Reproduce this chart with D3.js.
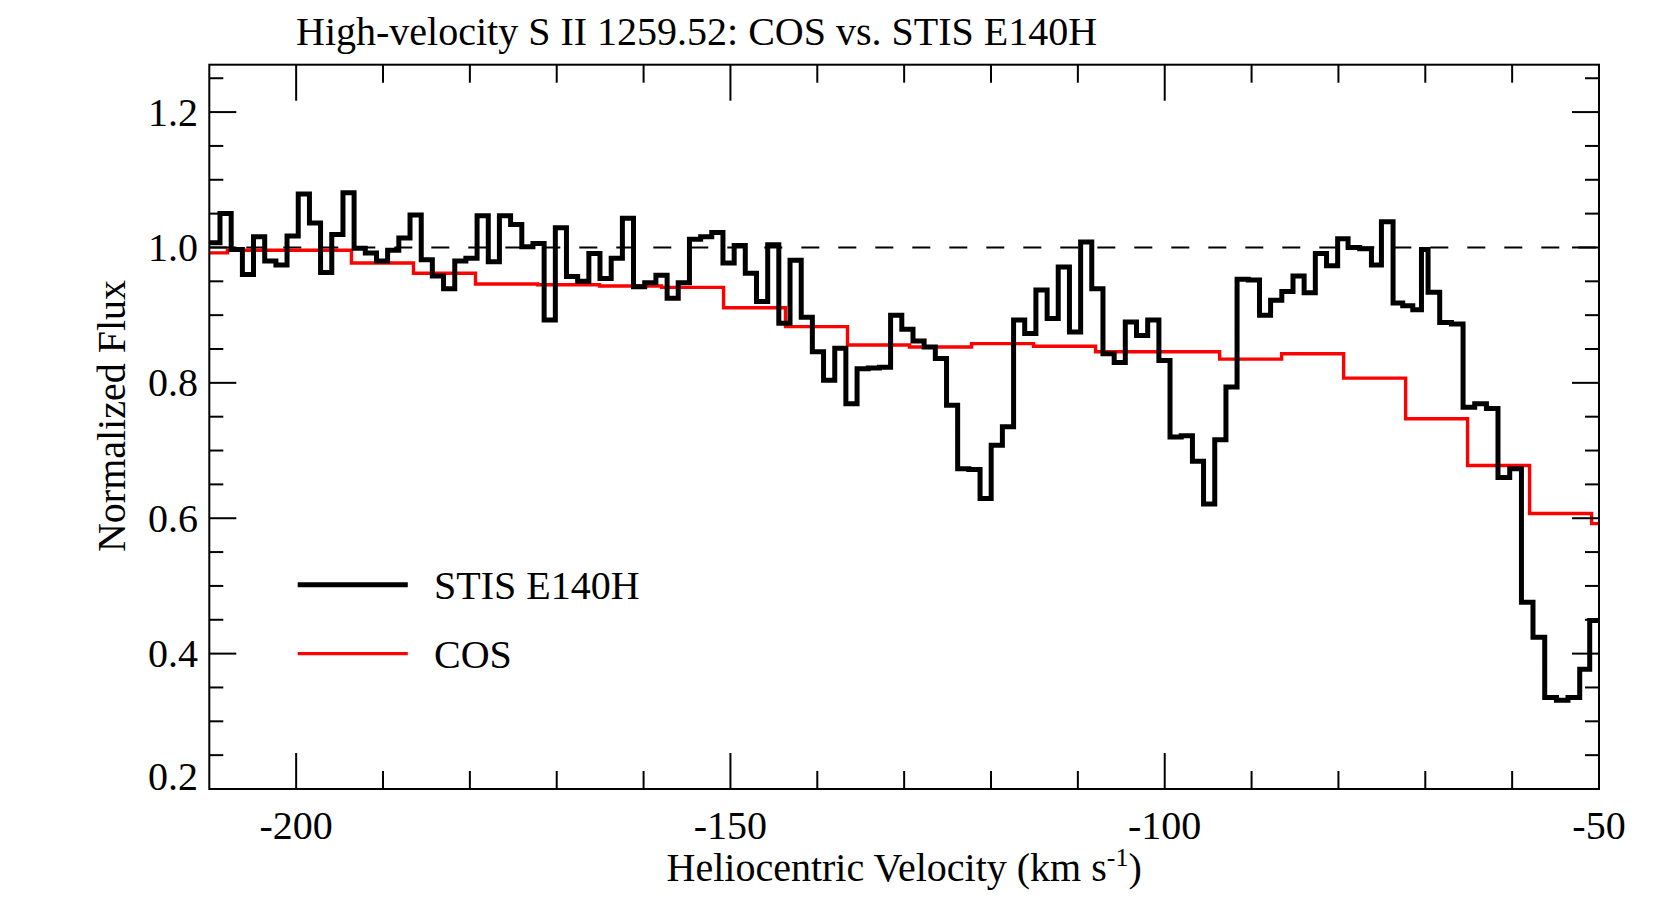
<!DOCTYPE html>
<html><head><meta charset="utf-8">
<script src="https://cdn.jsdelivr.net/npm/d3@7"></script>
<style>
body{margin:0;background:#fff}
svg{display:block}
text{font-family:"Liberation Serif","Times New Roman",serif;fill:#000}
</style>
</head><body>
<svg id="chart" width="1661" height="922"></svg>
<script>
// ---------------- data ----------------
const titleText = "High-velocity S II 1259.52: COS vs. STIS E140H";
const xDomain = [-210, -50];
const yDomain = [0.2, 1.27];
const xMajorTicks = [-200, -150, -100, -50];
const xTickLabels = ["-200", "-150", "-100", "-50"];
const xMinorTicks = [-190, -180, -170, -160, -140, -130, -120, -110, -90, -80, -70, -60];
const yMajorTicks = [0.2, 0.4, 0.6, 0.8, 1.0, 1.2];
const yTickLabels = ["0.2", "0.4", "0.6", "0.8", "1.0", "1.2"];
const yMinorTicks = [0.25, 0.3, 0.35, 0.45, 0.5, 0.55, 0.65, 0.7, 0.75, 0.85, 0.9, 0.95, 1.05, 1.1, 1.15, 1.25];
const continuumLevel = 1.0;

// STIS E140H: left bin edges (km/s) and normalized flux
const stisVelocity = [
 -210.05, -208.77, -207.48, -206.19, -204.91, -203.62, -202.33, -201.05, -199.76, -198.47,
 -197.19, -195.90, -194.61, -193.33, -192.04, -190.75, -189.47, -188.18, -186.89, -185.60,
 -184.32, -183.03, -181.74, -180.46, -179.17, -177.88, -176.60, -175.31, -174.02, -172.74,
 -171.45, -170.16, -168.88, -167.59, -166.30, -165.02, -163.73, -162.44, -161.16, -159.87,
 -158.58, -157.29, -156.01, -154.72, -153.43, -152.15, -150.86, -149.57, -148.29, -147.00,
 -145.71, -144.43, -143.14, -141.85, -140.57, -139.28, -137.99, -136.71, -135.42, -134.13,
 -132.85, -131.56, -130.27, -128.98, -127.70, -126.41, -125.12, -123.84, -122.55, -121.26,
 -119.98, -118.69, -117.40, -116.12, -114.83, -113.54, -112.26, -110.97, -109.68, -108.40,
 -107.11, -105.82, -104.54, -103.25, -101.96, -100.67, -99.39, -98.10, -96.81, -95.53,
 -94.24, -92.95, -91.67, -90.38, -89.09, -87.81, -86.52, -85.23, -83.95, -82.66,
 -81.37, -80.09, -78.89, -77.55, -76.20, -75.05, -73.71, -72.60, -71.44, -70.44,
 -69.68, -68.34, -66.99, -65.65, -64.31, -62.96, -61.63, -60.28, -58.93, -57.60,
 -56.25, -54.90, -53.57, -52.22, -51.07];
const stisVelocityEnd = -49.78;
const stisFlux = [
 1.007, 1.050, 0.997, 0.960, 1.016, 0.980, 0.974, 1.017, 1.079, 1.036,
 0.963, 1.019, 1.081, 0.999, 0.992, 0.980, 0.996, 1.014, 1.048, 0.982,
 0.958, 0.939, 0.980, 0.984, 1.047, 0.979, 1.047, 1.034, 1.001, 1.006,
 0.893, 1.029, 0.957, 0.950, 0.991, 0.954, 0.984, 1.043, 0.942, 0.948,
 0.959, 0.925, 0.948, 1.012, 1.016, 1.022, 0.977, 1.003, 0.962, 0.920,
 1.004, 0.888, 0.981, 0.897, 0.846, 0.804, 0.851, 0.769, 0.821, 0.822,
 0.823, 0.900, 0.879, 0.862, 0.853, 0.836, 0.767, 0.673, 0.672, 0.629,
 0.708, 0.735, 0.893, 0.873, 0.937, 0.895, 0.971, 0.875, 1.008, 0.939,
 0.843, 0.830, 0.890, 0.870, 0.893, 0.833, 0.720, 0.722, 0.684, 0.621,
 0.716, 0.794, 0.953, 0.952, 0.900, 0.922, 0.935, 0.958, 0.933, 0.991,
 0.973, 1.013, 1.000, 0.998, 0.974, 1.038, 0.918, 0.914, 0.908, 0.997,
 0.934, 0.889, 0.887, 0.764, 0.769, 0.762, 0.660, 0.673, 0.476, 0.424,
 0.335, 0.331, 0.335, 0.377, 0.449];

// COS: left bin edges (km/s) and normalized flux
const cosVelocity = [
 -215.04, -207.91, -200.77, -193.63, -186.49, -179.35, -172.21, -165.07, -157.93, -150.79,
 -143.66, -136.52, -129.38, -122.24, -115.10, -107.96, -100.82, -93.68, -86.54, -79.40,
 -72.26, -65.13, -57.99, -50.85];
const cosVelocityEnd = -43.71;
const cosFlux = [
 0.992, 0.996, 0.996, 0.977, 0.962, 0.946, 0.945, 0.943, 0.941, 0.911,
 0.883, 0.856, 0.853, 0.858, 0.854, 0.846, 0.846, 0.835, 0.843, 0.807,
 0.747, 0.678, 0.607, 0.592];

const legendLabels = ["STIS E140H", "COS"];
const seriesColors = ["#000000", "#ff0000"];

// ---------------- drawing ----------------
const svg = d3.select("#chart");
const L = 209.3, R = 1599, T = 64.7, B = 789;
const FS = 40;
const x = d3.scaleLinear().domain(xDomain).range([L, R]);
const y = d3.scaleLinear().domain(yDomain).range([B, T]);

svg.append("defs").append("clipPath").attr("id", "clip")
  .append("rect").attr("x", L).attr("y", T).attr("width", R - L).attr("height", B - T);

const plot = svg.append("g").attr("clip-path", "url(#clip)");

// continuum dashed line
plot.append("line")
  .attr("x1", x(xDomain[0])).attr("x2", x(xDomain[1]))
  .attr("y1", y(continuumLevel)).attr("y2", y(continuumLevel))
  .attr("stroke", "#000").attr("stroke-width", 2)
  .attr("stroke-dasharray", "18,19");

const stepLine = d3.line().x(d => x(d[0])).y(d => y(d[1])).curve(d3.curveStepAfter);

const cosPts = cosVelocity.map((v, i) => [v, cosFlux[i]]);
cosPts.push([cosVelocityEnd, cosFlux[cosFlux.length - 1]]);
const stisPts = stisVelocity.map((v, i) => [v, stisFlux[i]]);
stisPts.push([stisVelocityEnd, stisFlux[stisFlux.length - 1]]);

plot.append("path").attr("d", stepLine(cosPts))
  .attr("fill", "none").attr("stroke", seriesColors[1]).attr("stroke-width", 3.4)
  .attr("stroke-linejoin", "miter");
plot.append("path").attr("d", stepLine(stisPts))
  .attr("fill", "none").attr("stroke", seriesColors[0]).attr("stroke-width", 5)
  .attr("stroke-linejoin", "miter");

// frame
const axes = svg.append("g").attr("stroke", "#000").attr("stroke-width", 2);
axes.append("rect").attr("x", L).attr("y", T).attr("width", R - L).attr("height", B - T)
  .attr("fill", "none");

// x ticks (bottom & top, inward)
xMajorTicks.forEach(v => {
  axes.append("line").attr("x1", x(v)).attr("x2", x(v)).attr("y1", B).attr("y2", B - 36);
  axes.append("line").attr("x1", x(v)).attr("x2", x(v)).attr("y1", T).attr("y2", T + 36);
});
xMinorTicks.forEach(v => {
  axes.append("line").attr("x1", x(v)).attr("x2", x(v)).attr("y1", B).attr("y2", B - 18);
  axes.append("line").attr("x1", x(v)).attr("x2", x(v)).attr("y1", T).attr("y2", T + 18);
});
// y ticks (left & right, inward)
yMajorTicks.forEach(v => {
  axes.append("line").attr("x1", L).attr("x2", L + 27).attr("y1", y(v)).attr("y2", y(v));
  axes.append("line").attr("x1", R).attr("x2", R - 27).attr("y1", y(v)).attr("y2", y(v));
});
yMinorTicks.forEach(v => {
  axes.append("line").attr("x1", L).attr("x2", L + 14).attr("y1", y(v)).attr("y2", y(v));
  axes.append("line").attr("x1", R).attr("x2", R - 14).attr("y1", y(v)).attr("y2", y(v));
});

// tick labels
xMajorTicks.forEach((v, i) => {
  svg.append("text").attr("x", x(v)).attr("y", 839)
    .attr("text-anchor", "middle").attr("font-size", FS).text(xTickLabels[i]);
});
yMajorTicks.forEach((v, i) => {
  const base = Math.min(y(v) + 13.5, B + 1);
  svg.append("text").attr("x", 198).attr("y", base)
    .attr("text-anchor", "end").attr("font-size", FS).text(yTickLabels[i]);
});

// title
svg.append("text").attr("x", 296).attr("y", 44.5).attr("font-size", FS).text(titleText);

// x axis title
const xt = svg.append("text").attr("x", (L + R) / 2).attr("y", 881)
  .attr("text-anchor", "middle").attr("font-size", FS);
xt.append("tspan").text("Heliocentric Velocity (km s");
xt.append("tspan").attr("font-size", 26).attr("dy", -15).text("-1");
xt.append("tspan").attr("dy", 15).text(")");

// y axis title
svg.append("text").attr("transform", "translate(125,416) rotate(-90)")
  .attr("text-anchor", "middle").attr("font-size", FS).text("Normalized Flux");

// legend
const legY = [584.7, 653.6];
const legW = [5, 3.4];
legendLabels.forEach((lab, i) => {
  svg.append("line").attr("x1", 297.7).attr("x2", 407.8).attr("y1", legY[i]).attr("y2", legY[i])
    .attr("stroke", seriesColors[i]).attr("stroke-width", legW[i]);
  svg.append("text").attr("x", 434).attr("y", legY[i] + 14).attr("font-size", FS).text(lab);
});
</script>
</body></html>
